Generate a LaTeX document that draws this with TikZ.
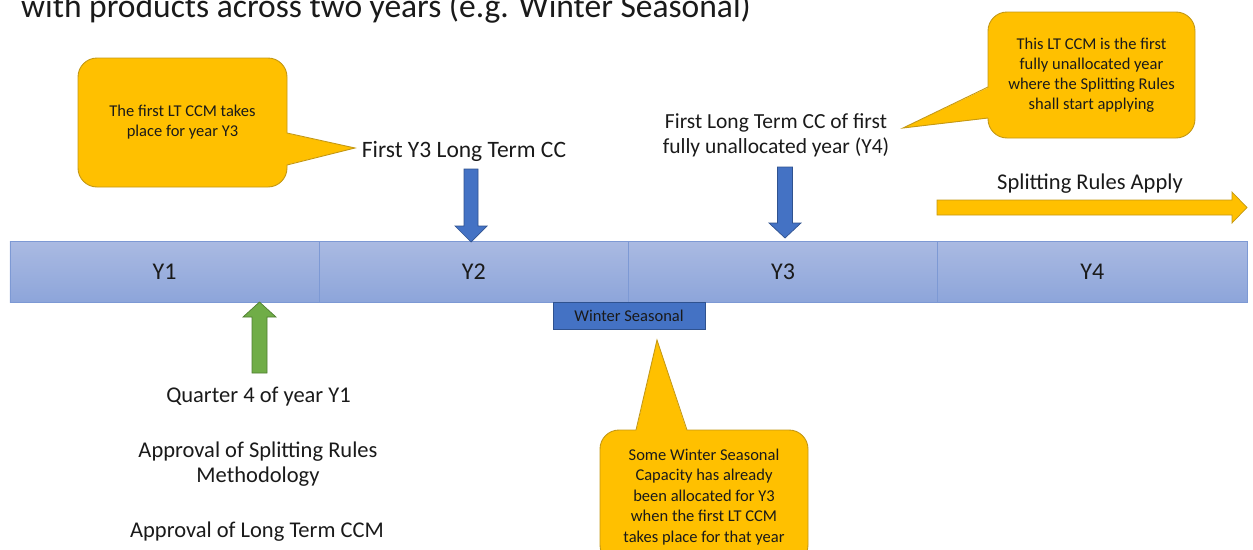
\documentclass[tikz,border=0pt]{standalone}
\usepackage{fontspec}
\setmainfont{Carlito}
\definecolor{callfill}{RGB}{255,192,0}
\definecolor{calldraw}{RGB}{196,152,20}
\definecolor{barTop}{RGB}{170,186,226}
\definecolor{barBot}{RGB}{141,165,218}
\definecolor{barLine}{RGB}{125,153,212}
\definecolor{bluefill}{RGB}{68,114,196}
\definecolor{bluedraw}{RGB}{47,82,143}
\definecolor{greenfill}{RGB}{112,173,71}
\definecolor{greendraw}{RGB}{80,126,50}
\definecolor{txt}{RGB}{26,26,26}
\tikzset{
  seg/.style={draw=barLine, line width=0.8pt, top color=barTop, bottom color=barBot,
    minimum width=309.25pt, minimum height=61pt, inner sep=0pt, text=txt,
    font=\fontsize{24}{28}\selectfont},
  callbox/.style={fill=callfill, draw=calldraw, line width=0.9pt, rounded corners=19pt,
    inner sep=0pt, align=center, text=txt},
  callptr/.style={fill=callfill},
  callline/.style={draw=calldraw, line width=0.9pt, line join=miter},
  lbl/.style={text=txt, inner sep=0pt, font=\fontsize{22.5}{25}\selectfont, align=center},
  bluearr/.style={fill=bluefill, draw=bluedraw, line width=0.7pt},
  greenarr/.style={fill=greenfill, draw=greendraw, line width=0.7pt},
  yellowarr/.style={fill=callfill, draw=calldraw, line width=0.7pt},
}
\begin{document}
\begin{tikzpicture}[x=1pt,y=-1pt]
\useasboundingbox (0,0) rectangle (1253,549);

% title
\node[anchor=base west, inner sep=0pt, text=txt, font=\fontsize{33.5}{38}\selectfont] (title) at (21,17)
  {with products across two years (e.g. Winter Seasonal)};

% timeline
\node[seg] (y1) at (164.6,271.5) {Y1};
\node[seg] (y2) at (473.9,271.5) {Y2};
\node[seg] (y3) at (783.1,271.5) {Y3};
\node[seg] (y4) at (1092.4,271.5) {Y4};

\node[fill=bluefill, draw=bluedraw, line width=0.8pt, minimum width=152pt, minimum height=27pt,
  inner sep=0pt, text=txt, font=\fontsize{16.5}{20}\selectfont] (ws) at (629,315.5) {Winter Seasonal};

% blue down arrows
\draw[bluearr] (464,169) -- (478,169) -- (478,226) -- (487,226) -- (471,242) -- (455,226) -- (464,226) -- cycle;
\draw[bluearr] (777.5,167) -- (792.5,167) -- (792.5,223) -- (801,223) -- (785,238) -- (769,223) -- (777.5,223) -- cycle;

% green up arrow
\draw[greenarr] (252,373) -- (267,373) -- (267,317) -- (276,317) -- (259.5,302) -- (243,317) -- (252,317) -- cycle;

% yellow right arrow
\draw[yellowarr] (937,200) -- (1232,200) -- (1232,192) -- (1247,207.5) -- (1232,223) -- (1232,215) -- (937,215) -- cycle;

% labels
\node[lbl, font=\fontsize{23.5}{25}\selectfont] (l1) at (464,151) {First Y3 Long Term CC};
\node[lbl, font=\fontsize{21.5}{25}\selectfont] (l2) at (776,135.5) {First Long Term CC of first\\fully unallocated year (Y4)};
\node[lbl] (l3) at (1090,184) {Splitting Rules Apply};
\node[lbl, anchor=base] (l4) at (258.5,402) {Quarter 4 of year Y1};
\node[lbl] (l5) at (258,464.5) {Approval of Splitting Rules\\Methodology};
\node[lbl, anchor=base] (l6) at (257,537) {Approval of Long Term CCM};

% callout 1 (left)
\node[callbox, minimum width=209pt, minimum height=129pt, font=\fontsize{16.5}{20}\selectfont] (c1) at (182.5,122.5)
  {The first LT CCM takes\\place for year Y3};
\coordinate (t1) at (355,148);
\fill[callptr] (285.5,133) -- (t1) -- (285.5,165) -- cycle;
\draw[callline] (287,133) -- (t1) -- (287,165);

% callout 2 (top right)
\node[callbox, minimum width=207pt, minimum height=126pt, font=\fontsize{16.5}{20}\selectfont] (c2) at (1091.5,75)
  {This LT CCM is the first\\fully unallocated year\\where the Splitting Rules\\shall start applying};
\coordinate (t2) at (903,128);
\fill[callptr] (989.5,87) -- (t2) -- (989.5,118) -- cycle;
\draw[callline] (988,87) -- (t2) -- (988,118);

% callout 3 (bottom)
\node[callbox, minimum width=208pt, minimum height=134pt, font=\fontsize{16.5}{20.5}\selectfont] (c3) at (704,497)
  {Some Winter Seasonal\\Capacity has already\\been allocated for Y3\\when the first LT CCM\\takes place for that year};
\coordinate (t3) at (657,340);
\fill[callptr] (636,431.5) -- (t3) -- (687,431.5) -- cycle;
\draw[callline] (636,430) -- (t3) -- (687,430);
\end{tikzpicture}
\end{document}
